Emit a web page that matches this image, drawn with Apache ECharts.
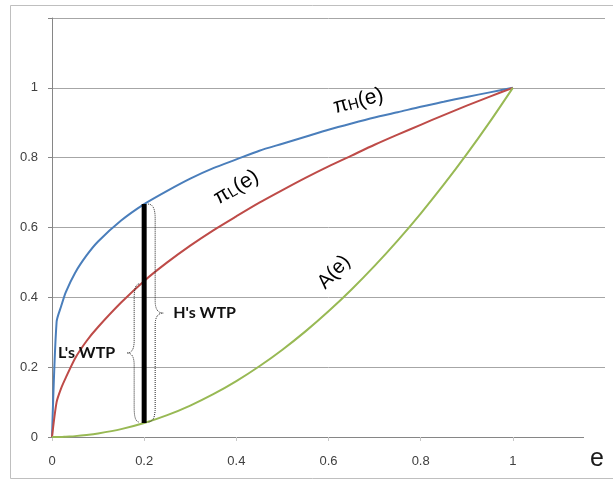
<!DOCTYPE html>
<html><head><meta charset="utf-8">
<script src="https://cdn.jsdelivr.net/npm/echarts@6/dist/echarts.min.js"></script>
<style>html,body{margin:0;padding:0;background:#fff}#c{width:613px;height:480px}</style>
</head><body><div id="c"></div>
<script>
// Data
const eValues = [0, 0.01, 0.02, 0.03, 0.05, 0.075, 0.1, 0.15, 0.2, 0.25, 0.3, 0.35, 0.4, 0.45, 0.5, 0.55, 0.6, 0.65, 0.7, 0.75, 0.8, 0.85, 0.9, 0.95, 1];
const piH = [0, 0.33, 0.375, 0.415, 0.47, 0.52, 0.56, 0.62, 0.667, 0.705, 0.74, 0.77, 0.795, 0.82, 0.84, 0.86, 0.88, 0.898, 0.915, 0.93, 0.946, 0.96, 0.974, 0.987, 1];
const piL = [0, 0.1, 0.14, 0.17, 0.225, 0.275, 0.315, 0.385, 0.447, 0.5, 0.548, 0.592, 0.632, 0.671, 0.707, 0.742, 0.775, 0.806, 0.837, 0.866, 0.894, 0.922, 0.949, 0.975, 1];
const aValues = [0, 0, 0, 0.001, 0.0025, 0.0056, 0.01, 0.0225, 0.04, 0.0625, 0.09, 0.1225, 0.16, 0.2025, 0.25, 0.3025, 0.36, 0.4225, 0.49, 0.5625, 0.64, 0.7225, 0.81, 0.9025, 1];
const xTickLabels = [0, 0.2, 0.4, 0.6, 0.8, 1];
const yTickLabels = [0, 0.2, 0.4, 0.6, 0.8, 1];
const wtpE = 0.2;
const wtpTop = 0.667, wtpMidL = 0.447, wtpBottom = 0.04;

const pair = (ys) => eValues.map((e, i) => [e, ys[i]]);

const chart = echarts.init(document.getElementById('c'), null, {renderer: 'canvas'});
const labelFont = {fontFamily: 'Liberation Sans', fontSize: 13, color: '#404040'};
chart.setOption({
  animation: false,
  grid: {left: 52, top: 18, right: 8, bottom: 43, containLabel: false},
  xAxis: {
    type: 'value', min: 0, max: 1.2, interval: 0.2,
    axisLine: {show: true, lineStyle: {color: '#868686', width: 1}},
    axisTick: {show: true, length: 4, lineStyle: {color: '#c8c8c8'}, customValues: xTickLabels},
    axisLabel: Object.assign({margin: 18, customValues: xTickLabels}, labelFont),
    splitLine: {show: false}
  },
  yAxis: {
    type: 'value', min: 0, max: 1.2, interval: 0.2,
    axisLine: {show: true, lineStyle: {color: '#868686', width: 1}},
    axisTick: {show: true, length: 4, lineStyle: {color: '#868686'}, customValues: yTickLabels.concat([1.2])},
    axisLabel: Object.assign({margin: 14, customValues: yTickLabels}, labelFont),
    splitLine: {show: true, lineStyle: {color: '#a6a6a6', width: 1}}
  },
  series: [
    {name: 'piH', type: 'line', data: pair(piH), showSymbol: false, smooth: 0.25, lineStyle: {color: '#4a7ebb', width: 2}, z: 3},
    {name: 'piL', type: 'line', data: pair(piL), showSymbol: false, smooth: 0.25, lineStyle: {color: '#be4b48', width: 2}, z: 3},
    {name: 'A', type: 'line', data: pair(aValues), showSymbol: false, smooth: 0.25, lineStyle: {color: '#98b954', width: 2}, z: 3},
    {name: 'bar', type: 'line', data: [[wtpE, wtpBottom], [wtpE, wtpTop]], showSymbol: false, lineStyle: {color: '#000', width: 5, cap: 'butt'}, z: 4}
  ]
});

function px(x, y) { return chart.convertToPixel({gridIndex: 0}, [x, y]); }
const pTop = px(wtpE, wtpTop), pMid = px(wtpE, wtpMidL), pBot = px(wtpE, wtpBottom);
const bx = pTop[0];

function quad(pts, p0, c, p1) {
  for (let i = 1; i <= 10; i++) {
    const t = i / 10, u = 1 - t;
    pts.push([u * u * p0[0] + 2 * u * t * c[0] + t * t * p1[0], u * u * p0[1] + 2 * u * t * c[1] + t * t * p1[1]]);
  }
}
function brace(x0, xb, xt, y1, y2) {
  const ym = (y1 + y2) / 2;
  const pts = [[x0, y1]];
  quad(pts, [x0, y1], [xb, y1], [xb, y1 + 14]);
  pts.push([xb, ym - 12]);
  quad(pts, [xb, ym - 12], [xb, ym], [xt, ym]);
  quad(pts, [xt, ym], [xb, ym], [xb, ym + 12]);
  pts.push([xb, y2 - 14]);
  quad(pts, [xb, y2 - 14], [xb, y2], [x0, y2]);
  return pts;
}
const hTop = pTop[1], hBot = pBot[1] - 1;
const lTop = pMid[1] + 3, lBot = pBot[1] - 1;
const hTipX = bx + 19, lTipX = bx - 17;

const pH = px(0.665, 0.962), pL = px(0.40, 0.715), pA = px(0.612, 0.472), pE = px(1.2, 0);
const deg = Math.PI / 180;
const richPi = {a: {fontFamily: 'Liberation Sans', fontSize: 21, color: '#000'}, b: {fontFamily: 'Liberation Sans', fontSize: 15, color: '#000', padding: [5, 0, 0, 0]}};

chart.setOption({
  graphic: [
    {type: 'rect', silent: true, shape: {x: 10.5, y: 5.5, width: 700, height: 473}, style: {fill: 'none', stroke: '#bfbfbf', lineWidth: 1}, z: 0},
    {type: 'polyline', silent: true, shape: {points: brace(bx + 4, bx + 11, hTipX, hTop, hBot)}, style: {fill: null, stroke: '#222', lineWidth: 1, lineDash: [1, 1]}, z: 5},
    {type: 'polyline', silent: true, shape: {points: brace(bx - 5, bx - 10, lTipX, lTop, lBot)}, style: {fill: null, stroke: '#222', lineWidth: 1, lineDash: [1, 1]}, z: 5},
    {type: 'text', silent: true, x: hTipX + 10, y: (hTop + hBot) / 2, style: {text: "H's WTP", font: 'bold 16px Lato', fill: '#111', textAlign: 'left', textVerticalAlign: 'middle'}, z: 6},
    {type: 'text', silent: true, x: lTipX - 12, y: (lTop + lBot) / 2, style: {text: "L's WTP", font: 'bold 16px Lato', fill: '#111', textAlign: 'right', textVerticalAlign: 'middle'}, z: 6},
    {type: 'text', silent: true, x: pH[0], y: pH[1], rotation: 15 * deg, style: {text: '{a|π}{b|H}{a|(e)}', align: 'center', verticalAlign: 'middle', rich: richPi}, z: 6},
    {type: 'text', silent: true, x: pL[0], y: pL[1], rotation: 31 * deg, style: {text: '{a|π}{b|L}{a|(e)}', align: 'center', verticalAlign: 'middle', rich: richPi}, z: 6},
    {type: 'text', silent: true, x: pA[0], y: pA[1], rotation: 47 * deg, style: {text: 'A(e)', font: '20px Liberation Sans', fill: '#000', textAlign: 'center', textVerticalAlign: 'middle'}, z: 6},
    {type: 'rect', silent: true, shape: {x: pE[0] - 21, y: pE[1] - 3, width: 22, height: 40}, style: {fill: '#fff'}, z: 7},
    {type: 'text', silent: true, x: pE[0] - 8, y: pE[1] + 22, style: {text: 'e', font: '25px Liberation Sans', fill: '#1a1a1a', textAlign: 'center', textVerticalAlign: 'middle'}, z: 8}
  ]
});
</script></body></html>
